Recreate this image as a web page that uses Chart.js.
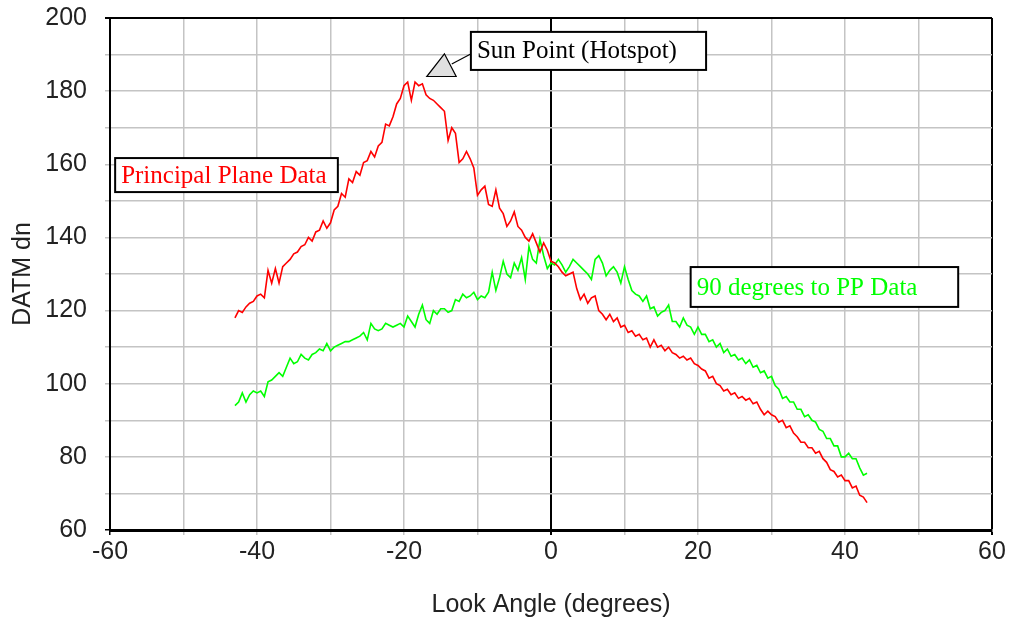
<!DOCTYPE html>
<html>
<head>
<meta charset="utf-8">
<script src="https://cdn.jsdelivr.net/npm/chart.js@4/dist/chart.umd.min.js"></script>
<style>
  html, body { margin: 0; padding: 0; background: #fff; }
  #wrap { width: 1009px; height: 622px; }
</style>
</head>
<body>
<div id="wrap"><canvas id="hotspot-chart" width="1009" height="622"></canvas></div>
<script>
// look angle sampling (degrees), one reading every half degree
var angleStart = -43;
var angleStep = 0.5;

// DATM dn, principal plane scan
var principalPlane = [
  118, 120, 119.5, 121, 122, 122.5, 124, 124.5, 123.5, 131,
  127.5, 131.5, 127.5, 132, 133, 134, 135.5, 136, 137.5, 138,
  140, 139, 141.5, 142, 144.5, 142.5, 144, 147.5, 148.5, 152,
  151, 156, 155, 158, 157, 160.5, 161, 163.5, 162, 165,
  166, 171, 170.5, 173, 176.5, 178, 181.5, 182.5, 177.5, 182.5,
  181.5, 182, 179, 178, 177.5, 176.5, 175.5, 174.5, 166.5, 170,
  168.5, 160.5, 161.5, 163.5, 161.5, 159, 151.5, 153, 154, 149,
  148.5, 153, 148, 146.5, 143, 144.5, 147, 143, 142, 140,
  139, 141, 138.5, 136, 138.5, 136.5, 133.5, 133, 132, 130.5,
  129.5, 130, 130.5, 126, 123, 124.5, 122, 123.5, 124, 120,
  119, 117.5, 119, 117, 118, 115.5, 116, 114, 114.5, 113,
  113.5, 112, 112.5, 110, 112, 110, 110.5, 109, 110, 108.5,
  108, 107, 107.5, 106.5, 107, 105.5, 105, 104, 103.5, 101.5,
  102, 100, 99.5, 98, 98.5, 97, 97.5, 96, 96.5, 95.5,
  96, 94.5, 95, 93, 91.5, 92.5, 91.5, 91, 89.5, 90,
  88, 88.5, 86.5, 85.5, 84, 84, 82.5, 82.5, 81, 81.5,
  79.5, 78.5, 76.5, 76, 74.5, 75, 73.5, 73.5, 71.5, 72,
  69.5, 69, 67.5
];

// DATM dn, scan at 90 degrees to the principal plane
var crossPlane = [
  94, 95, 97.5, 95, 97, 98, 97.5, 98, 96.5, 100.5,
  101, 102, 103, 102, 104.5, 107, 105.5, 106, 108, 107,
  106.5, 108, 108.5, 109.5, 109, 111, 109, 110, 110.5, 111,
  111.5, 111.5, 112, 112.5, 113, 114, 112, 116.5, 115, 114.5,
  115, 116.5, 116, 115.5, 116, 116.5, 115.5, 118.5, 117, 115.5,
  119, 121.5, 117.5, 116.5, 120, 119, 120.5, 120.5, 119.5, 120,
  123, 122.5, 124.5, 123.5, 124, 125, 123, 124, 123.5, 125,
  130.5, 125.5, 129, 133.5, 130, 129, 133, 131, 134.5, 128.5,
  137.5, 134, 133, 139.5, 135, 131.5, 133, 132.5, 134, 132.5,
  130.5, 132, 134, 133, 132, 131, 130, 128.5, 134, 135,
  133, 129.5, 131, 132, 130.5, 127.5, 132, 128.5, 125.5, 124.5,
  124, 122.5, 124, 120.5, 121, 118.5, 119.5, 120, 121.5, 117,
  117, 115.5, 118, 116, 115.5, 113.5, 115.5, 113.5, 113.5, 111.5,
  112, 110, 111, 108.5, 109.5, 107.5, 108, 106.5, 107, 105.5,
  106.5, 104.5, 105, 103, 103.5, 101.5, 102, 99.5, 98.5, 96,
  96.5, 95, 95, 93, 93, 91, 91.5, 90, 89.5, 87.5,
  87, 85, 85, 83, 83, 80, 80, 81, 79.5, 79.5,
  77, 75, 75.5
];

var xTicksShown = [-60, -40, -20, 0, 20, 40, 60];
var yTicksShown = [60, 80, 100, 120, 140, 160, 180, 200];

function toPoints(values) {
  return values.map(function(v, i) {
    return { x: angleStart + i * angleStep, y: v };
  });
}

var sansFont = { family: 'Liberation Sans, Arial, sans-serif', size: 25 };
var serifFont = '25px "Liberation Serif", "Times New Roman", serif';

//  text boxes and the hotspot marker, placed in data units
var notes = {
  id: 'notes',
  afterDraw: function(chart) {
    var ctx = chart.ctx;
    var xs = chart.scales.x;
    var ys = chart.scales.y;
    function px(v) { return xs.getPixelForValue(v); }
    function py(v) { return ys.getPixelForValue(v); }

    function box(x0, y0, x1, y1, text, color) {
      var l = px(x0), t = py(y0), r = px(x1), b = py(y1);
      ctx.save();
      ctx.fillStyle = '#fff';
      ctx.fillRect(l, t, r - l, b - t);
      ctx.strokeStyle = '#000';
      ctx.lineWidth = 2;
      ctx.strokeRect(l, t, r - l, b - t);
      ctx.fillStyle = color;
      ctx.font = serifFont;
      ctx.textAlign = 'left';
      ctx.textBaseline = 'middle';
      ctx.fillText(text, l + 6, (t + b) / 2 + 1);
      ctx.restore();
    }

    box(-59.3, 161.7, -29.0, 152.4, 'Principal Plane Data', '#ff0000');
    box(19.0, 131.9, 55.4, 121.0, '90 degrees to PP Data', '#00ff00');

    // leader line + triangle for the hotspot
    ctx.save();
    ctx.strokeStyle = '#000';
    ctx.lineWidth = 1.2;
    ctx.beginPath();
    ctx.moveTo(px(-13.5), py(187.4));
    ctx.lineTo(px(-10.8), py(190.3));
    ctx.stroke();
    ctx.beginPath();
    ctx.moveTo(px(-16.9), py(184.0));
    ctx.lineTo(px(-12.9), py(184.0));
    ctx.lineTo(px(-14.5), py(190.2));
    ctx.closePath();
    ctx.fillStyle = '#e0e0e0';
    ctx.fill();
    ctx.stroke();
    ctx.restore();

    box(-10.9, 196.2, 21.1, 185.8, 'Sun Point (Hotspot)', '#000');
  }
};

(function() {
  var ctx = document.getElementById('hotspot-chart');
  var chart = new Chart(ctx, {
    type: 'line',
    data: {
      datasets: [
        {
          label: 'Principal Plane Data',
          data: toPoints(principalPlane),
          borderColor: '#ff0000',
          borderWidth: 1.6,
          pointRadius: 0,
          tension: 0
        },
        {
          label: '90 degrees to PP Data',
          data: toPoints(crossPlane),
          borderColor: '#00ff00',
          borderWidth: 1.6,
          pointRadius: 0,
          tension: 0
        }
      ]
    },
    options: {
      responsive: false,
      animation: false,
      layout: { padding: { left: 0, top: 18, right: 17, bottom: 0 } },
      plugins: {
        legend: { display: false },
        tooltip: { enabled: false }
      },
      scales: {
        x: {
          type: 'linear',
          min: -60,
          max: 60,
          afterFit: function(scale) {
            scale.height = 92;
            scale.paddingLeft = 0;
            scale.paddingRight = 0;
          },
          ticks: {
            stepSize: 10,
            autoSkip: false,
            maxRotation: 0,
            color: '#222',
            font: sansFont,
            padding: 2,
            callback: function(v) { return xTicksShown.indexOf(v) >= 0 ? String(v) : ''; }
          },
          grid: {
            tickLength: 5,
            lineWidth: function(c) { return c.tick && (c.tick.value === 0 || c.tick.value === 60) ? 2 : 1.5; },
            color: function(c) {
              if (c.tick && (c.tick.value === 0 || c.tick.value === 60 || c.tick.value === -60)) return '#000';
              return '#c4c4c4';
            }
          },
          border: { color: '#000', width: 3 },
          title: {
            display: true,
            text: 'Look Angle (degrees)',
            color: '#222',
            font: sansFont,
            padding: { top: 0, bottom: 2 }
          }
        },
        y: {
          min: 60,
          max: 200,
          afterFit: function(scale) {
            scale.width = 110;
            scale.paddingTop = 0;
            scale.paddingBottom = 0;
          },
          ticks: {
            stepSize: 10,
            autoSkip: false,
            color: '#222',
            font: sansFont,
            padding: 18,
            callback: function(v) { return yTicksShown.indexOf(v) >= 0 ? String(v) : ''; }
          },
          grid: {
            tickLength: 5,
            lineWidth: function(c) { return c.tick && c.tick.value === 200 ? 2 : 1.5; },
            color: function(c) {
              if (c.tick && (c.tick.value === 200 || c.tick.value === 60)) return '#000';
              return '#c4c4c4';
            }
          },
          border: { color: '#000', width: 2 },
          title: {
            display: true,
            text: 'DATM dn',
            color: '#222',
            font: sansFont,
            padding: { top: 8, bottom: 0 }
          }
        }
      }
    },
    plugins: [notes]
  });
})();
</script>
</body>
</html>
